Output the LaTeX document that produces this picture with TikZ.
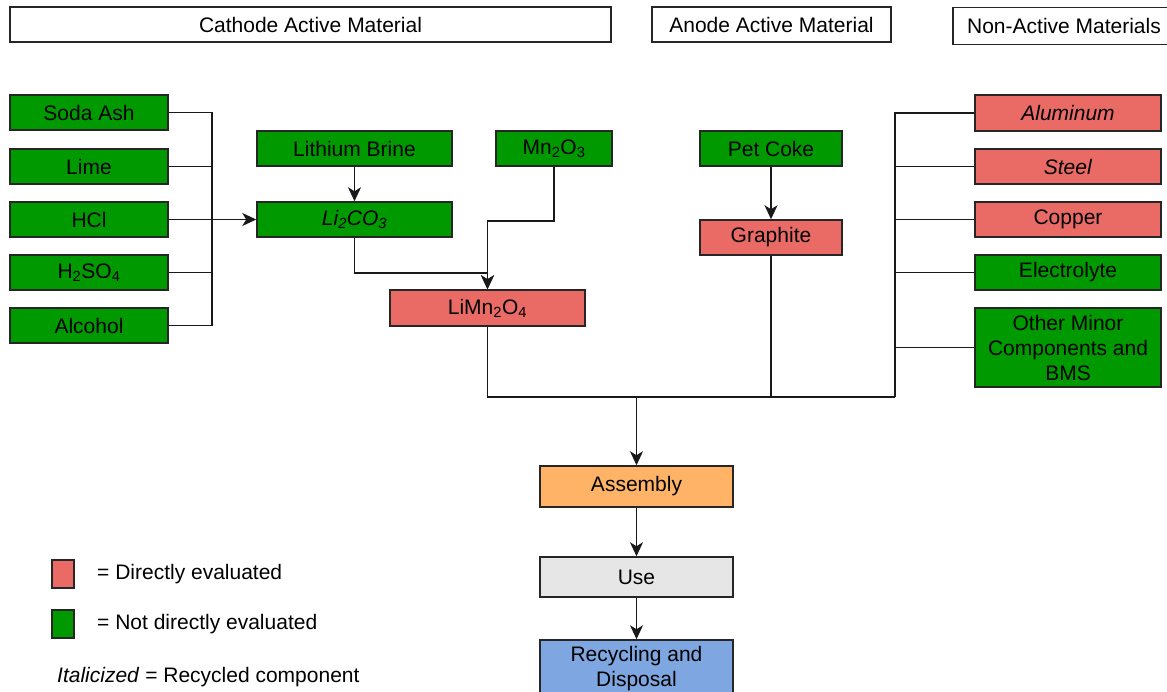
\documentclass[tikz,border=0pt]{standalone}
\usepackage{fontspec}
\setmainfont{Liberation Sans}
\usetikzlibrary{arrows.meta}
\definecolor{mygreen}{HTML}{009900}
\definecolor{myred}{HTML}{EA6B66}
\definecolor{myorange}{HTML}{FFB366}
\definecolor{mygray}{HTML}{E6E6E6}
\definecolor{myblue}{HTML}{7EA6E0}
\begin{document}
\begin{tikzpicture}[x=1pt,y=-1pt,
  box/.style={draw=black!85, line width=1.5pt, inner sep=0pt, align=center,
    font=\fontsize{21}{25}\selectfont},
  gbox/.style={box, fill=mygreen},
  rbox/.style={box, fill=myred},
  hbox/.style={box, fill=white},
  conn/.style={line width=1.6pt, black!90},
  arr/.style={conn, -{Stealth[length=14pt,width=13pt,inset=4pt]}},
  leg/.style={font=\fontsize{21}{25}\selectfont, inner sep=0pt, anchor=west}]
\useasboundingbox (0,0) rectangle (1167,691);
\clip (0,0) rectangle (1167,691);
% headers
\node[hbox, minimum width=601pt, minimum height=35pt] (hcat) at (310.5,24.5) {Cathode Active Material};
\node[hbox, minimum width=239pt, minimum height=35pt] (hano) at (771.5,24.5) {Anode Active Material};
\node[hbox, minimum width=222pt, minimum height=37pt] (hnon) at (1064,26) {Non-Active Materials};
% left column
\node[gbox, minimum width=158pt, minimum height=35pt] (soda) at (89,112.5) {Soda Ash};
\node[gbox, minimum width=158pt, minimum height=35pt] (lime) at (89,166.5) {Lime};
\node[gbox, minimum width=158pt, minimum height=35pt] (hcl) at (89,219.5) {HCl};
\node[gbox, minimum width=158pt, minimum height=35pt] (hso) at (89,272.5) {H\textsubscript{2}SO\textsubscript{4}};
\node[gbox, minimum width=158pt, minimum height=35pt] (alc) at (89,325.5) {Alcohol};
% cathode chain
\node[gbox, minimum width=195pt, minimum height=35pt] (brine) at (354.5,148.5) {Lithium Brine};
\node[gbox, minimum width=195pt, minimum height=35pt] (lico) at (354.5,219.5) {\textit{Li\textsubscript{2}CO\textsubscript{3}}};
\node[gbox, minimum width=116pt, minimum height=35pt] (mno) at (554,148.5) {Mn\textsubscript{2}O\textsubscript{3}};
\node[rbox, minimum width=195pt, minimum height=36pt] (limn) at (487.5,308) {LiMn\textsubscript{2}O\textsubscript{4}};
% anode
\node[gbox, minimum width=142pt, minimum height=35pt] (coke) at (771,148.5) {Pet Coke};
\node[rbox, minimum width=142pt, minimum height=35pt] (graph) at (771,237.5) {Graphite};
% right column
\node[rbox, minimum width=186pt, minimum height=36pt] (alu) at (1068,113) {\textit{Aluminum}};
\node[rbox, minimum width=186pt, minimum height=35pt] (steel) at (1068,166.5) {\textit{Steel}};
\node[rbox, minimum width=186pt, minimum height=35pt] (copper) at (1068,219.5) {Copper};
\node[gbox, minimum width=186pt, minimum height=35pt] (elec) at (1068,272.5) {Electrolyte};
\node[gbox, minimum width=186pt, minimum height=79pt] (other) at (1068,347.5) {Other Minor\\Components and\\BMS};
% bottom chain
\node[box, fill=myorange, minimum width=193pt, minimum height=41pt] (asm) at (636.5,486.5) {Assembly};
\node[box, fill=mygray, minimum width=193pt, minimum height=40pt] (use) at (636.5,577) {Use};
\node[box, fill=myblue, minimum width=193pt, minimum height=58pt] (rec) at (636.5,669) {Recycling and\\Disposal};
% legend
\node[box, fill=myred, minimum width=22pt, minimum height=28pt] (lr) at (63,574) {};
\node[box, fill=mygreen, minimum width=22pt, minimum height=28pt] (lg) at (63,624) {};
\node[leg] (lrt) at (97,574) {= Directly evaluated};
\node[leg] (lgt) at (97,624) {= Not directly evaluated};
\node[leg] (lit) at (57,677) {\textit{Italicized} = Recycled component};
% coordinates
\coordinate (lbus) at (212,325.5);
\coordinate (rbus) at (895,397);
% left connectors
\draw[conn] (soda.east) -| (lbus);
\draw[conn] (alc.east) -- (lbus);
\draw[conn] (lime.east) -- (lime.east -| lbus);
\draw[conn] (hso.east) -- (hso.east -| lbus);
\draw[arr] (hcl.east) -- (lico.west);
\draw[arr] (brine.south) -- (lico.north);
\draw[arr] (lico.south) -- ++(0,35) -| (limn.north);
\draw[arr] (mno.south) -- ++(0,54) -| (limn.north);
\draw[arr] (coke.south) -- (graph.north);
% right connectors
\draw[conn] (alu.west) -| (rbus);
\draw[conn] (steel.west) -- (steel.west -| rbus);
\draw[conn] (copper.west) -- (copper.west -| rbus);
\draw[conn] (elec.west) -- (elec.west -| rbus);
\draw[conn] (other.west) -- (other.west -| rbus);
\draw[conn] (limn.south) |- (rbus);
\draw[conn] (graph.south) -- (graph.south |- rbus);
\draw[arr] (asm.north |- rbus) -- (asm.north);
\draw[arr] (asm.south) -- (use.north);
\draw[arr] (use.south) -- (rec.north);
\end{tikzpicture}
\end{document}
